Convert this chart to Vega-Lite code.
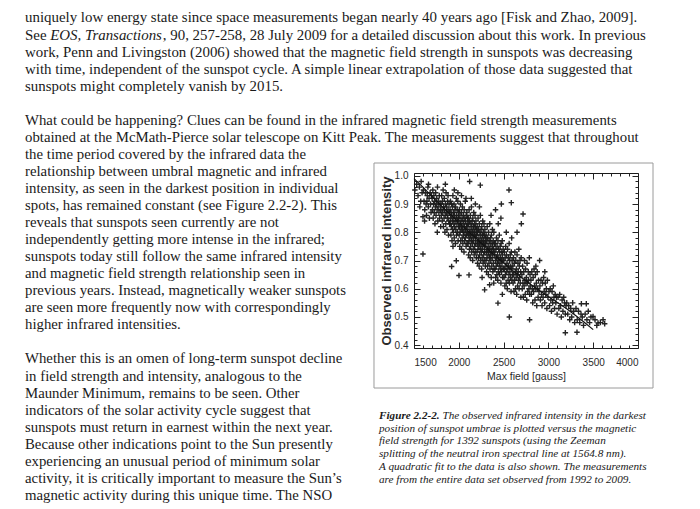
{
"$schema":"https://vega.github.io/schema/vega-lite/v6.json",
"width":224,"height":175,
"autosize":{"type":"none"},
"padding":{"left":414,"top":173,"right":62,"bottom":161},
"background":"white",
"config":{"view":{"stroke":"#1a1a1a","strokeWidth":1},"axis":{"grid":false,"domain":false}},
"datasets":{
"body":[
{"para":1,"line":0,"span":"plain","text":"uniquely low energy state since space measurements began nearly 40 years ago [Fisk and Zhao, 2009]."},
{"para":1,"line":1,"span":"plain","text":"See"},
{"para":1,"line":1,"span":"journal","text":"EOS, Transactions"},
{"para":1,"line":1,"span":"after","text":", 90, 257-258, 28 July 2009 for a detailed discussion about this work.  In previous"},
{"para":1,"line":2,"span":"plain","text":"work, Penn and Livingston (2006) showed that the magnetic field strength in sunspots was decreasing"},
{"para":1,"line":3,"span":"plain","text":"with time, independent of the sunspot cycle.  A simple linear extrapolation of those data suggested that"},
{"para":1,"line":4,"span":"plain","text":"sunspots might completely vanish by 2015."},
{"para":2,"line":6,"span":"plain","text":"What could be happening?  Clues can be found in the infrared magnetic field strength measurements"},
{"para":2,"line":7,"span":"plain","text":"obtained at the McMath-Pierce solar telescope on Kitt Peak.  The measurements suggest that throughout"},
{"para":2,"line":8,"span":"plain","text":"the time period covered by the infrared data the"},
{"para":2,"line":9,"span":"plain","text":"relationship between umbral magnetic and infrared"},
{"para":2,"line":10,"span":"plain","text":"intensity, as seen in the darkest position in individual"},
{"para":2,"line":11,"span":"plain","text":"spots, has remained constant (see Figure 2.2-2).  This"},
{"para":2,"line":12,"span":"plain","text":"reveals that sunspots seen currently are not"},
{"para":2,"line":13,"span":"plain","text":"independently getting more intense in the infrared;"},
{"para":2,"line":14,"span":"plain","text":"sunspots today still follow the same infrared intensity"},
{"para":2,"line":15,"span":"plain","text":"and magnetic field strength relationship seen in"},
{"para":2,"line":16,"span":"plain","text":"previous years.  Instead, magnetically weaker sunspots"},
{"para":2,"line":17,"span":"plain","text":"are seen more frequently now with correspondingly"},
{"para":2,"line":18,"span":"plain","text":"higher infrared intensities."},
{"para":3,"line":20,"span":"plain","text":"Whether this is an omen of long-term sunspot decline"},
{"para":3,"line":21,"span":"plain","text":"in field strength and intensity, analogous to the"},
{"para":3,"line":22,"span":"plain","text":"Maunder Minimum, remains to be seen.  Other"},
{"para":3,"line":23,"span":"plain","text":"indicators of the solar activity cycle suggest that"},
{"para":3,"line":24,"span":"plain","text":"sunspots must return in earnest within the next year."},
{"para":3,"line":25,"span":"plain","text":"Because other indications point to the Sun presently"},
{"para":3,"line":26,"span":"plain","text":"experiencing an unusual period of minimum solar"},
{"para":3,"line":27,"span":"plain","text":"activity, it is critically important to measure the Sun’s"},
{"para":3,"line":28,"span":"plain","text":"magnetic activity during this unique time.  The NSO"}
],
"caption":[
{"line":0,"span":"label","text":"Figure 2.2-2."},
{"line":0,"span":"body","text":"The observed infrared intensity in the darkest"},
{"line":1,"span":"body","text":"position of sunspot umbrae is plotted versus the magnetic"},
{"line":2,"span":"body","text":"field strength for 1392 sunspots (using the Zeeman"},
{"line":3,"span":"body","text":"splitting of the neutral iron spectral line at 1564.8 nm)."},
{"line":4,"span":"body","text":"A quadratic fit to the data is also shown. The measurements"},
{"line":5,"span":"body","text":"are from the entire data set observed from 1992 to 2009."}
],
"fit":[
{"b":1500,"i":0.99},{"b":1600,"i":0.96},{"b":1700,"i":0.927},{"b":1800,"i":0.895},{"b":1900,"i":0.865},{"b":2000,"i":0.835},{"b":2100,"i":0.805},{"b":2200,"i":0.776},{"b":2300,"i":0.747},{"b":2400,"i":0.718},{"b":2500,"i":0.691},{"b":2600,"i":0.665},{"b":2700,"i":0.64},{"b":2800,"i":0.616},{"b":2900,"i":0.594},{"b":3000,"i":0.572},{"b":3100,"i":0.551},{"b":3200,"i":0.53},{"b":3300,"i":0.506},{"b":3400,"i":0.481},{"b":3500,"i":0.455}
],
"spots":[
{"b":1510,"i":0.95},{"b":1530,"i":0.97},{"b":1545,"i":0.93},{"b":1560,"i":0.96},{"b":1575,"i":0.91},{"b":1590,"i":0.94},{"b":1580,"i":0.98},{"b":1565,"i":0.89},{"b":1600,"i":0.855},{"b":1600,"i":0.723},
{"b":1605,"i":0.95},{"b":1612,"i":0.91},{"b":1620,"i":0.88},{"b":1628,"i":0.94},{"b":1635,"i":0.90},{"b":1640,"i":0.86},{"b":1648,"i":0.93},{"b":1655,"i":0.96},{"b":1660,"i":0.89},{"b":1668,"i":0.92},{"b":1672,"i":0.85},{"b":1680,"i":0.94},{"b":1685,"i":0.90},{"b":1690,"i":0.87},{"b":1695,"i":0.93},{"b":1662,"i":0.97},{"b":1618,"i":0.84},{"b":1645,"i":0.91},
{"b":1702,"i":0.92},{"b":1706,"i":0.88},{"b":1710,"i":0.95},{"b":1714,"i":0.85},{"b":1718,"i":0.90},{"b":1722,"i":0.93},{"b":1726,"i":0.87},{"b":1730,"i":0.91},{"b":1734,"i":0.83},{"b":1738,"i":0.89},{"b":1742,"i":0.94},{"b":1746,"i":0.86},{"b":1750,"i":0.90},{"b":1754,"i":0.92},{"b":1758,"i":0.88},{"b":1762,"i":0.96},{"b":1766,"i":0.84},{"b":1770,"i":0.89},{"b":1774,"i":0.91},{"b":1778,"i":0.87},{"b":1782,"i":0.93},{"b":1786,"i":0.85},{"b":1790,"i":0.90},{"b":1794,"i":0.88},{"b":1798,"i":0.82},{"b":1760,"i":0.80},
{"b":1802,"i":0.90},{"b":1805,"i":0.86},{"b":1809,"i":0.93},{"b":1812,"i":0.88},{"b":1815,"i":0.84},{"b":1818,"i":0.91},{"b":1821,"i":0.87},{"b":1825,"i":0.95},{"b":1828,"i":0.82},{"b":1831,"i":0.89},{"b":1835,"i":0.85},{"b":1838,"i":0.92},{"b":1841,"i":0.88},{"b":1845,"i":0.80},{"b":1848,"i":0.86},{"b":1851,"i":0.90},{"b":1855,"i":0.83},{"b":1858,"i":0.94},{"b":1861,"i":0.87},{"b":1865,"i":0.89},{"b":1868,"i":0.81},{"b":1871,"i":0.85},{"b":1875,"i":0.91},{"b":1878,"i":0.86},{"b":1881,"i":0.88},{"b":1885,"i":0.79},{"b":1888,"i":0.84},{"b":1891,"i":0.90},{"b":1895,"i":0.87},{"b":1898,"i":0.83},{"b":1850,"i":0.97},{"b":1880,"i":0.93},
{"b":1902,"i":0.88},{"b":1904,"i":0.83},{"b":1907,"i":0.91},{"b":1909,"i":0.85},{"b":1912,"i":0.79},{"b":1914,"i":0.87},{"b":1917,"i":0.82},{"b":1919,"i":0.90},{"b":1922,"i":0.86},{"b":1924,"i":0.77},{"b":1927,"i":0.84},{"b":1929,"i":0.89},{"b":1932,"i":0.81},{"b":1934,"i":0.93},{"b":1937,"i":0.85},{"b":1939,"i":0.80},{"b":1942,"i":0.87},{"b":1944,"i":0.83},{"b":1947,"i":0.90},{"b":1949,"i":0.78},{"b":1952,"i":0.86},{"b":1954,"i":0.82},{"b":1957,"i":0.88},{"b":1959,"i":0.84},{"b":1962,"i":0.76},{"b":1964,"i":0.89},{"b":1967,"i":0.81},{"b":1969,"i":0.85},{"b":1972,"i":0.92},{"b":1974,"i":0.79},{"b":1977,"i":0.86},{"b":1979,"i":0.83},{"b":1982,"i":0.88},{"b":1984,"i":0.80},{"b":1987,"i":0.84},{"b":1989,"i":0.91},{"b":1992,"i":0.77},{"b":1994,"i":0.85},{"b":1997,"i":0.82},{"b":1999,"i":0.87},{"b":1950,"i":0.95},{"b":1990,"i":0.94},{"b":1920,"i":0.679},{"b":1972,"i":0.699},{"b":1935,"i":0.75},
{"b":2002,"i":0.85},{"b":2004,"i":0.79},{"b":2006,"i":0.88},{"b":2009,"i":0.82},{"b":2011,"i":0.75},{"b":2013,"i":0.86},{"b":2015,"i":0.80},{"b":2018,"i":0.90},{"b":2020,"i":0.83},{"b":2022,"i":0.77},{"b":2024,"i":0.84},{"b":2027,"i":0.81},{"b":2029,"i":0.87},{"b":2031,"i":0.74},{"b":2033,"i":0.82},{"b":2036,"i":0.85},{"b":2038,"i":0.78},{"b":2040,"i":0.89},{"b":2042,"i":0.81},{"b":2045,"i":0.76},{"b":2047,"i":0.84},{"b":2049,"i":0.80},{"b":2051,"i":0.86},{"b":2054,"i":0.79},{"b":2056,"i":0.83},{"b":2058,"i":0.73},{"b":2060,"i":0.88},{"b":2063,"i":0.82},{"b":2065,"i":0.77},{"b":2067,"i":0.85},{"b":2069,"i":0.80},{"b":2072,"i":0.91},{"b":2074,"i":0.78},{"b":2076,"i":0.84},{"b":2078,"i":0.81},{"b":2081,"i":0.75},{"b":2083,"i":0.86},{"b":2085,"i":0.82},{"b":2087,"i":0.79},{"b":2090,"i":0.87},{"b":2092,"i":0.76},{"b":2094,"i":0.83},{"b":2096,"i":0.80},{"b":2099,"i":0.85},{"b":2030,"i":0.93},{"b":2080,"i":0.92},{"b":2002,"i":0.647},
{"b":2101,"i":0.82},{"b":2103,"i":0.76},{"b":2105,"i":0.85},{"b":2107,"i":0.79},{"b":2109,"i":0.72},{"b":2111,"i":0.83},{"b":2113,"i":0.77},{"b":2115,"i":0.88},{"b":2117,"i":0.80},{"b":2119,"i":0.74},{"b":2121,"i":0.84},{"b":2123,"i":0.78},{"b":2125,"i":0.81},{"b":2127,"i":0.71},{"b":2129,"i":0.86},{"b":2131,"i":0.79},{"b":2133,"i":0.75},{"b":2135,"i":0.83},{"b":2137,"i":0.80},{"b":2139,"i":0.77},{"b":2141,"i":0.89},{"b":2143,"i":0.73},{"b":2145,"i":0.82},{"b":2147,"i":0.78},{"b":2149,"i":0.84},{"b":2151,"i":0.76},{"b":2153,"i":0.80},{"b":2155,"i":0.70},{"b":2157,"i":0.85},{"b":2159,"i":0.79},{"b":2161,"i":0.74},{"b":2163,"i":0.82},{"b":2165,"i":0.77},{"b":2167,"i":0.87},{"b":2169,"i":0.81},{"b":2171,"i":0.72},{"b":2173,"i":0.79},{"b":2175,"i":0.83},{"b":2177,"i":0.75},{"b":2179,"i":0.80},{"b":2181,"i":0.86},{"b":2183,"i":0.73},{"b":2185,"i":0.78},{"b":2187,"i":0.82},{"b":2189,"i":0.76},{"b":2191,"i":0.84},{"b":2193,"i":0.79},{"b":2196,"i":0.71},{"b":2198,"i":0.81},{"b":2140,"i":0.92},{"b":2185,"i":0.90},{"b":2121,"i":0.98},{"b":2114,"i":0.649},
{"b":2201,"i":0.79},{"b":2203,"i":0.73},{"b":2205,"i":0.82},{"b":2207,"i":0.76},{"b":2209,"i":0.69},{"b":2211,"i":0.80},{"b":2213,"i":0.74},{"b":2215,"i":0.85},{"b":2217,"i":0.77},{"b":2219,"i":0.71},{"b":2221,"i":0.81},{"b":2223,"i":0.75},{"b":2225,"i":0.78},{"b":2227,"i":0.68},{"b":2229,"i":0.83},{"b":2231,"i":0.76},{"b":2233,"i":0.72},{"b":2235,"i":0.80},{"b":2237,"i":0.77},{"b":2239,"i":0.74},{"b":2241,"i":0.86},{"b":2243,"i":0.70},{"b":2245,"i":0.79},{"b":2247,"i":0.75},{"b":2249,"i":0.81},{"b":2251,"i":0.73},{"b":2253,"i":0.77},{"b":2255,"i":0.67},{"b":2257,"i":0.82},{"b":2259,"i":0.76},{"b":2261,"i":0.71},{"b":2263,"i":0.79},{"b":2265,"i":0.74},{"b":2267,"i":0.84},{"b":2269,"i":0.78},{"b":2271,"i":0.69},{"b":2273,"i":0.76},{"b":2275,"i":0.80},{"b":2277,"i":0.72},{"b":2279,"i":0.77},{"b":2281,"i":0.83},{"b":2283,"i":0.70},{"b":2285,"i":0.75},{"b":2287,"i":0.79},{"b":2289,"i":0.73},{"b":2291,"i":0.81},{"b":2293,"i":0.76},{"b":2296,"i":0.68},{"b":2298,"i":0.78},{"b":2230,"i":0.89},{"b":2260,"i":0.64},{"b":2240,"i":0.967},{"b":2288,"i":0.596},
{"b":2301,"i":0.76},{"b":2303,"i":0.70},{"b":2305,"i":0.79},{"b":2308,"i":0.73},{"b":2310,"i":0.66},{"b":2312,"i":0.77},{"b":2314,"i":0.71},{"b":2317,"i":0.82},{"b":2319,"i":0.74},{"b":2321,"i":0.68},{"b":2323,"i":0.78},{"b":2326,"i":0.72},{"b":2328,"i":0.75},{"b":2330,"i":0.65},{"b":2332,"i":0.80},{"b":2335,"i":0.73},{"b":2337,"i":0.69},{"b":2339,"i":0.77},{"b":2341,"i":0.74},{"b":2344,"i":0.71},{"b":2346,"i":0.83},{"b":2348,"i":0.67},{"b":2350,"i":0.76},{"b":2353,"i":0.72},{"b":2355,"i":0.78},{"b":2357,"i":0.70},{"b":2359,"i":0.74},{"b":2362,"i":0.64},{"b":2364,"i":0.79},{"b":2366,"i":0.73},{"b":2368,"i":0.68},{"b":2371,"i":0.76},{"b":2373,"i":0.71},{"b":2375,"i":0.81},{"b":2377,"i":0.75},{"b":2380,"i":0.66},{"b":2382,"i":0.73},{"b":2384,"i":0.77},{"b":2386,"i":0.69},{"b":2389,"i":0.74},{"b":2391,"i":0.80},{"b":2393,"i":0.67},{"b":2395,"i":0.72},{"b":2398,"i":0.76},{"b":2360,"i":0.86},{"b":2390,"i":0.62},{"b":2344,"i":0.614},
{"b":2402,"i":0.73},{"b":2405,"i":0.67},{"b":2407,"i":0.76},{"b":2410,"i":0.70},{"b":2412,"i":0.64},{"b":2415,"i":0.74},{"b":2417,"i":0.68},{"b":2420,"i":0.78},{"b":2422,"i":0.71},{"b":2425,"i":0.65},{"b":2427,"i":0.75},{"b":2430,"i":0.69},{"b":2432,"i":0.72},{"b":2435,"i":0.63},{"b":2437,"i":0.77},{"b":2440,"i":0.70},{"b":2442,"i":0.66},{"b":2445,"i":0.74},{"b":2447,"i":0.71},{"b":2450,"i":0.68},{"b":2452,"i":0.79},{"b":2455,"i":0.65},{"b":2457,"i":0.73},{"b":2460,"i":0.69},{"b":2462,"i":0.75},{"b":2465,"i":0.67},{"b":2467,"i":0.71},{"b":2470,"i":0.62},{"b":2472,"i":0.76},{"b":2475,"i":0.70},{"b":2477,"i":0.66},{"b":2480,"i":0.73},{"b":2482,"i":0.68},{"b":2485,"i":0.77},{"b":2487,"i":0.72},{"b":2490,"i":0.64},{"b":2492,"i":0.70},{"b":2495,"i":0.74},{"b":2497,"i":0.67},{"b":2440,"i":0.83},{"b":2470,"i":0.85},{"b":2475,"i":0.90},{"b":2410,"i":0.88},{"b":2437,"i":0.549},{"b":2486,"i":0.58},
{"b":2502,"i":0.70},{"b":2505,"i":0.64},{"b":2508,"i":0.73},{"b":2511,"i":0.67},{"b":2514,"i":0.61},{"b":2517,"i":0.71},{"b":2520,"i":0.65},{"b":2523,"i":0.75},{"b":2526,"i":0.68},{"b":2529,"i":0.62},{"b":2532,"i":0.72},{"b":2535,"i":0.66},{"b":2538,"i":0.69},{"b":2541,"i":0.60},{"b":2544,"i":0.74},{"b":2547,"i":0.67},{"b":2550,"i":0.63},{"b":2553,"i":0.71},{"b":2556,"i":0.68},{"b":2559,"i":0.65},{"b":2562,"i":0.76},{"b":2565,"i":0.62},{"b":2568,"i":0.70},{"b":2571,"i":0.66},{"b":2574,"i":0.72},{"b":2577,"i":0.64},{"b":2580,"i":0.68},{"b":2583,"i":0.59},{"b":2586,"i":0.73},{"b":2589,"i":0.67},{"b":2592,"i":0.63},{"b":2595,"i":0.70},{"b":2598,"i":0.65},{"b":2530,"i":0.80},{"b":2590,"i":0.78},{"b":2560,"i":0.95},{"b":2586,"i":0.905},{"b":2564,"i":0.50},
{"b":2603,"i":0.68},{"b":2606,"i":0.62},{"b":2610,"i":0.71},{"b":2613,"i":0.65},{"b":2616,"i":0.59},{"b":2620,"i":0.69},{"b":2623,"i":0.63},{"b":2626,"i":0.73},{"b":2630,"i":0.66},{"b":2633,"i":0.60},{"b":2636,"i":0.70},{"b":2640,"i":0.64},{"b":2643,"i":0.67},{"b":2646,"i":0.58},{"b":2650,"i":0.72},{"b":2653,"i":0.65},{"b":2656,"i":0.61},{"b":2660,"i":0.69},{"b":2663,"i":0.66},{"b":2666,"i":0.63},{"b":2670,"i":0.74},{"b":2673,"i":0.60},{"b":2676,"i":0.68},{"b":2680,"i":0.64},{"b":2683,"i":0.70},{"b":2686,"i":0.62},{"b":2690,"i":0.66},{"b":2693,"i":0.57},{"b":2696,"i":0.71},{"b":2650,"i":0.80},{"b":2698,"i":0.83},{"b":2717,"i":0.865},
{"b":2704,"i":0.65},{"b":2708,"i":0.60},{"b":2712,"i":0.68},{"b":2716,"i":0.62},{"b":2720,"i":0.57},{"b":2725,"i":0.66},{"b":2729,"i":0.61},{"b":2733,"i":0.70},{"b":2737,"i":0.63},{"b":2741,"i":0.58},{"b":2745,"i":0.67},{"b":2750,"i":0.62},{"b":2754,"i":0.64},{"b":2758,"i":0.56},{"b":2762,"i":0.69},{"b":2766,"i":0.62},{"b":2770,"i":0.59},{"b":2775,"i":0.66},{"b":2779,"i":0.63},{"b":2783,"i":0.60},{"b":2787,"i":0.71},{"b":2791,"i":0.58},{"b":2795,"i":0.65},{"b":2798,"i":0.61},{"b":2790,"i":0.49},
{"b":2805,"i":0.63},{"b":2810,"i":0.58},{"b":2815,"i":0.66},{"b":2820,"i":0.60},{"b":2825,"i":0.55},{"b":2830,"i":0.64},{"b":2835,"i":0.59},{"b":2840,"i":0.67},{"b":2845,"i":0.61},{"b":2850,"i":0.56},{"b":2855,"i":0.65},{"b":2860,"i":0.60},{"b":2865,"i":0.62},{"b":2870,"i":0.54},{"b":2875,"i":0.66},{"b":2880,"i":0.60},{"b":2885,"i":0.57},{"b":2890,"i":0.63},{"b":2895,"i":0.59},{"b":2860,"i":0.68},
{"b":2905,"i":0.61},{"b":2911,"i":0.56},{"b":2917,"i":0.63},{"b":2923,"i":0.58},{"b":2929,"i":0.54},{"b":2935,"i":0.62},{"b":2941,"i":0.57},{"b":2947,"i":0.64},{"b":2953,"i":0.59},{"b":2959,"i":0.55},{"b":2965,"i":0.62},{"b":2971,"i":0.58},{"b":2977,"i":0.60},{"b":2983,"i":0.53},{"b":2989,"i":0.63},{"b":2995,"i":0.57},{"b":2960,"i":0.66},{"b":2902,"i":0.70},
{"b":3006,"i":0.59},{"b":3013,"i":0.54},{"b":3020,"i":0.60},{"b":3027,"i":0.56},{"b":3034,"i":0.52},{"b":3041,"i":0.59},{"b":3048,"i":0.55},{"b":3055,"i":0.61},{"b":3062,"i":0.57},{"b":3069,"i":0.53},{"b":3076,"i":0.58},{"b":3083,"i":0.55},{"b":3090,"i":0.57},{"b":3097,"i":0.51},
{"b":3108,"i":0.57},{"b":3117,"i":0.53},{"b":3126,"i":0.58},{"b":3135,"i":0.54},{"b":3144,"i":0.50},{"b":3153,"i":0.56},{"b":3162,"i":0.52},{"b":3171,"i":0.57},{"b":3180,"i":0.55},{"b":3189,"i":0.51},{"b":3196,"i":0.54},{"b":3189,"i":0.444},
{"b":3205,"i":0.55},{"b":3216,"i":0.51},{"b":3227,"i":0.54},{"b":3238,"i":0.49},{"b":3249,"i":0.53},{"b":3260,"i":0.50},{"b":3271,"i":0.55},{"b":3282,"i":0.52},{"b":3293,"i":0.48},
{"b":3308,"i":0.53},{"b":3322,"i":0.49},{"b":3336,"i":0.52},{"b":3350,"i":0.48},{"b":3364,"i":0.51},{"b":3378,"i":0.50},{"b":3392,"i":0.47},{"b":3319,"i":0.446},{"b":3368,"i":0.547},
{"b":3410,"i":0.51},{"b":3423,"i":0.547},{"b":3430,"i":0.49},{"b":3445,"i":0.52},{"b":3460,"i":0.48},{"b":3475,"i":0.50},{"b":3498,"i":0.502},{"b":3520,"i":0.49},{"b":3540,"i":0.47},{"b":3554,"i":0.479},{"b":3580,"i":0.48},{"b":3610,"i":0.49},{"b":3628,"i":0.476}
]
},
"layer":[
{
"layer":[
{"data":{"name":"spots"},
"mark":{"type":"point","shape":"M-1,0L1,0M0,-1L0,1","size":30,"filled":false,"strokeWidth":1.4,"color":"#1a1a1a","opacity":0.95},
"encoding":{
"x":{"field":"b","type":"quantitative","scale":{"domain":[1500,4000],"nice":false,"zero":false},
"axis":{"orient":"bottom","values":[1500,1600,1700,1800,1900,2000,2100,2200,2300,2400,2500,2600,2700,2800,2900,3000,3100,3200,3300,3400,3500,3600,3700,3800,3900,4000],"format":"d","labelExpr":"datum.value % 500 === 0 ? datum.label : ''","tickSize":{"condition":{"test":"datum.value % 500 === 0","value":-6},"value":-3},"tickColor":"#222","labelPadding":15,"labelFont":"Liberation Sans","labelFontSize":10,"labelColor":"#2a2a2a","title":"Max field [gauss]","titleFont":"Liberation Sans","titleFontSize":10.5,"titleFontWeight":"normal","titleColor":"#2a2a2a","titlePadding":4}},
"y":{"field":"i","type":"quantitative","scale":{"domain":[0.39,1.01],"nice":false,"zero":false},
"axis":{"orient":"left","values":[0.4,0.42,0.44,0.46,0.48,0.5,0.52,0.54,0.56,0.58,0.6,0.62,0.64,0.66,0.68,0.7,0.72,0.74,0.76,0.78,0.8,0.82,0.84,0.86,0.88,0.9,0.92,0.94,0.96,0.98,1.0],"format":".1f","labelExpr":"abs(datum.value*10-round(datum.value*10))<0.001 ? datum.label : ''","tickSize":{"condition":{"test":"abs(datum.value*10-round(datum.value*10))<0.001","value":-6},"value":-3},"tickColor":"#222","labelPadding":12,"labelFont":"Liberation Sans","labelFontSize":10,"labelColor":"#2a2a2a","title":"Observed infrared intensity","titleFont":"Liberation Sans","titleFontSize":13,"titleFontWeight":"bold","titleColor":"#2a2a2a","titlePadding":1}}
}},
{"data":{"name":"fit"},
"mark":{"type":"line","color":"#111","strokeWidth":1.2},
"encoding":{
"x":{"field":"b","type":"quantitative","scale":{"domain":[1500,4000],"nice":false,"zero":false},
"axis":{"orient":"top","values":[1500,1600,1700,1800,1900,2000,2100,2200,2300,2400,2500,2600,2700,2800,2900,3000,3100,3200,3300,3400,3500,3600,3700,3800,3900,4000],"labels":false,"title":null,"tickSize":{"condition":{"test":"datum.value % 500 === 0","value":-6},"value":-3},"tickColor":"#222"}},
"y":{"field":"i","type":"quantitative","scale":{"domain":[0.39,1.01],"nice":false,"zero":false},
"axis":{"orient":"right","values":[0.4,0.42,0.44,0.46,0.48,0.5,0.52,0.54,0.56,0.58,0.6,0.62,0.64,0.66,0.68,0.7,0.72,0.74,0.76,0.78,0.8,0.82,0.84,0.86,0.88,0.9,0.92,0.94,0.96,0.98,1.0],"labels":false,"title":null,"tickSize":{"condition":{"test":"abs(datum.value*10-round(datum.value*10))<0.001","value":-6},"value":-3},"tickColor":"#222"}}
}}
],
"resolve":{"axis":{"x":"independent","y":"independent"}}
},
{
"data":{"name":"body"},
"encoding":{
"y":{"field":"line","type":"quantitative","scale":{"domain":[9.062,19.326],"reverse":true,"nice":false,"zero":false},"axis":null},
"x":{"datum":0,"type":"quantitative","scale":{"domain":[389,613],"nice":false,"zero":false},"axis":null},
"text":{"field":"text"}
},
"layer":[
{"transform":[{"filter":"datum.para===1 && datum.span==='plain'"}],"mark":{"type":"text","align":"left","baseline":"middle","font":"Liberation Serif","fontSize":14.9,"color":"#1a1a1a"}},
{"transform":[{"filter":"datum.para===1 && datum.span==='journal'"}],"mark":{"type":"text","align":"left","baseline":"middle","font":"Liberation Serif","fontSize":14.9,"fontStyle":"italic","color":"#1a1a1a","dx":25.2}},
{"transform":[{"filter":"datum.para===1 && datum.span==='after'"}],"mark":{"type":"text","align":"left","baseline":"middle","font":"Liberation Serif","fontSize":14.9,"color":"#1a1a1a","dx":137.8}},
{"transform":[{"filter":"datum.para>1"}],"mark":{"type":"text","align":"left","baseline":"middle","font":"Liberation Serif","fontSize":14.8,"color":"#1a1a1a"}}
]
},
{
"data":{"name":"caption"},
"encoding":{
"y":{"field":"line","type":"quantitative","scale":{"domain":[-18.895,-5.276],"reverse":true,"nice":false,"zero":false},"axis":null},
"x":{"datum":0,"type":"quantitative","scale":{"domain":[35,259],"nice":false,"zero":false},"axis":null},
"text":{"field":"text"}
},
"layer":[
{"transform":[{"filter":"datum.span==='label'"}],"mark":{"type":"text","align":"left","baseline":"middle","font":"Liberation Serif","fontSize":11.2,"fontStyle":"italic","fontWeight":"bold","color":"#1a1a1a"}},
{"transform":[{"filter":"datum.span==='body' && datum.line===0"}],"mark":{"type":"text","align":"left","baseline":"middle","font":"Liberation Serif","fontSize":11.2,"fontStyle":"italic","color":"#1a1a1a","dx":63.5}},
{"transform":[{"filter":"datum.span==='body' && datum.line>0"}],"mark":{"type":"text","align":"left","baseline":"middle","font":"Liberation Serif","fontSize":11.2,"fontStyle":"italic","color":"#1a1a1a"}}
]
},
{
"data":{"values":[{"figure":"Figure 2.2-2"}]},
"mark":{"type":"rect","filled":false,"stroke":"#9a9a9a","strokeWidth":1},
"encoding":{
"x":{"datum":0,"type":"quantitative","scale":{"domain":[0.14337,0.9462],"nice":false,"zero":false},"axis":null},
"x2":{"datum":1},
"y":{"datum":0,"type":"quantitative","scale":{"domain":[0.04444,0.8222],"reverse":true,"nice":false,"zero":false},"axis":null},
"y2":{"datum":1}
}
}
],
"resolve":{"scale":{"x":"independent","y":"independent"}}
}
